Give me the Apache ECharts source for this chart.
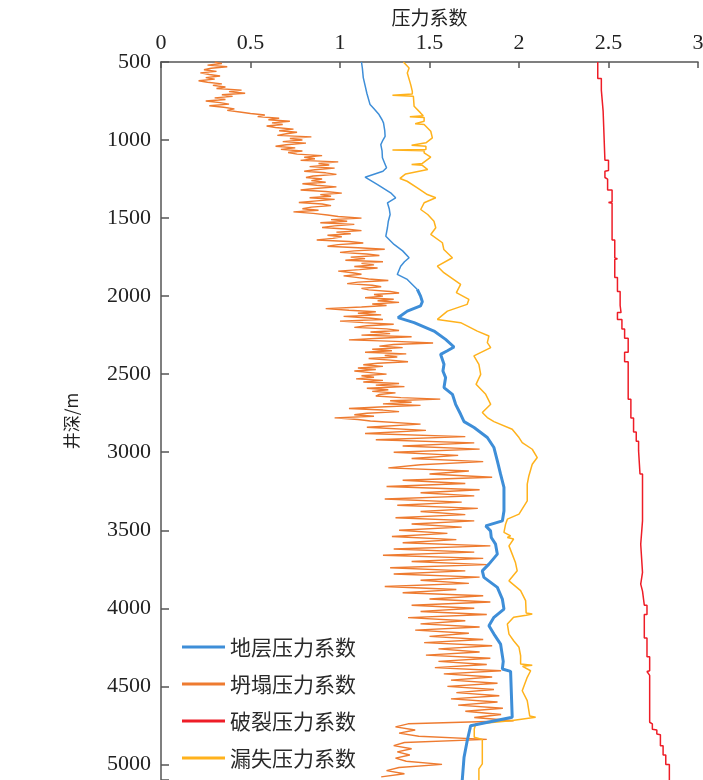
<!DOCTYPE html>
<html>
<head>
<meta charset="utf-8">
<title>压力系数剖面</title>
<script src="https://cdn.jsdelivr.net/npm/echarts@6/dist/echarts.min.js"></script>
<style>
  html, body { margin: 0; padding: 0; background: #fff; }
  #chart { width: 703px; height: 780px; }
</style>
</head>
<body>
<div id="chart"></div>
<script>
// Axis ticks
const xTicks = [0, 0.5, 1, 1.5, 2, 2.5, 3];
const depthTicks = [500, 1000, 1500, 2000, 2500, 3000, 3500, 4000, 4500, 5000];

const seriesNames = ['地层压力系数', '坍塌压力系数', '破裂压力系数', '漏失压力系数'];

// 地层压力系数 (pore pressure), depth in m
const poreDepth = [500, 540, 600, 650, 700, 773, 800, 837, 870, 890, 940, 976, 1000, 1029, 1070, 1114, 1150, 1178, 1200, 1238,
  1242, 1285, 1338, 1370, 1402, 1440, 1477, 1520, 1562, 1616, 1669, 1710, 1754, 1780, 1808, 1861, 1893, 1957,
  2000, 2036, 2063, 2096, 2138, 2170, 2224, 2277, 2326, 2350, 2373, 2437, 2480, 2522, 2586, 2629, 2693, 2757, 2804,
  2842, 2906, 2970, 3056, 3141, 3226, 3376, 3440, 3472, 3504, 3546, 3589, 3653, 3717, 3760, 3802, 3866, 3941,
  4005, 4058, 4112, 4165, 4229, 4340, 4389, 4404, 4698, 4752, 4847, 4954, 5100];
const poreValue = [1.12, 1.125, 1.13, 1.14, 1.15, 1.168, 1.19, 1.218, 1.235, 1.243, 1.25, 1.252, 1.24, 1.228, 1.235, 1.237, 1.25, 1.26, 1.24, 1.14,
  1.135, 1.21, 1.283, 1.311, 1.265, 1.275, 1.28, 1.27, 1.265, 1.256, 1.302, 1.35, 1.386, 1.36, 1.339, 1.32, 1.376, 1.432,
  1.45, 1.46, 1.45, 1.376, 1.324, 1.414, 1.525, 1.59, 1.637, 1.60, 1.562, 1.581, 1.575, 1.59, 1.581, 1.628, 1.646, 1.674, 1.693,
  1.749, 1.823, 1.86, 1.879, 1.897, 1.916, 1.916, 1.907, 1.814, 1.841, 1.845, 1.869, 1.879, 1.832, 1.795, 1.804, 1.879, 1.907,
  1.916, 1.86, 1.832, 1.86, 1.897, 1.912, 1.907, 1.953, 1.962, 1.73, 1.711, 1.693, 1.683];
// depth where the pore curve is drawn heavier
const poreHeavyFrom = 1957;

// 坍塌压力系数 (collapse pressure): 10 m samples down to 2790 m, 20 m samples below
const collapseDepth = [
  500, 510, 520, 530, 540, 550, 560, 570, 580, 590,
  600, 610, 620, 630, 640, 650, 660, 670, 680, 690,
  700, 710, 720, 730, 740, 750, 760, 770, 780, 790,
  800, 810, 820, 830, 840, 850, 860, 870, 880, 890,
  900, 910, 920, 930, 940, 950, 960, 970, 980, 990,
  1000, 1010, 1020, 1030, 1040, 1050, 1060, 1070, 1080, 1090,
  1100, 1110, 1120, 1130, 1140, 1150, 1160, 1170, 1180, 1190,
  1200, 1210, 1220, 1230, 1240, 1250, 1260, 1270, 1280, 1290,
  1300, 1310, 1320, 1330, 1340, 1350, 1360, 1370, 1380, 1390,
  1400, 1410, 1420, 1430, 1440, 1450, 1460, 1470, 1480, 1490,
  1500, 1510, 1520, 1530, 1540, 1550, 1560, 1570, 1580, 1590,
  1600, 1610, 1620, 1630, 1640, 1650, 1660, 1670, 1680, 1690,
  1700, 1710, 1720, 1730, 1740, 1750, 1760, 1770, 1780, 1790,
  1800, 1810, 1820, 1830, 1840, 1850, 1860, 1870, 1880, 1890,
  1900, 1910, 1920, 1930, 1940, 1950, 1960, 1970, 1980, 1990,
  2000, 2010, 2020, 2030, 2040, 2050, 2060, 2070, 2080, 2090,
  2100, 2110, 2120, 2130, 2140, 2150, 2160, 2170, 2180, 2190,
  2200, 2210, 2220, 2230, 2240, 2250, 2260, 2270, 2280, 2290,
  2300, 2310, 2320, 2330, 2340, 2350, 2360, 2370, 2380, 2390,
  2400, 2410, 2420, 2430, 2440, 2450, 2460, 2470, 2480, 2490,
  2500, 2510, 2520, 2530, 2540, 2550, 2560, 2570, 2580, 2590,
  2600, 2610, 2620, 2630, 2640, 2650, 2660, 2670, 2680, 2690,
  2700, 2710, 2720, 2730, 2740, 2750, 2760, 2770, 2780, 2790,
  2800, 2820, 2840, 2860, 2880, 2900, 2920, 2940, 2960, 2980,
  3000, 3020, 3040, 3060, 3080, 3100, 3120, 3140, 3160, 3180,
  3200, 3220, 3240, 3260, 3280, 3300, 3320, 3340, 3360, 3380,
  3400, 3420, 3440, 3460, 3480, 3500, 3520, 3540, 3560, 3580,
  3600, 3620, 3640, 3660, 3680, 3700, 3720, 3740, 3760, 3780,
  3800, 3820, 3840, 3860, 3880, 3900, 3920, 3940, 3960, 3980,
  4000, 4020, 4040, 4060, 4080, 4100, 4120, 4140, 4160, 4180,
  4200, 4220, 4240, 4260, 4280, 4300, 4320, 4340, 4360, 4380,
  4400, 4420, 4440, 4460, 4480, 4500, 4520, 4540, 4560, 4580,
  4600, 4620, 4640, 4660, 4680, 4700, 4720, 4740, 4760, 4780,
  4800, 4820, 4840, 4860, 4880, 4900, 4920, 4940, 4960, 4980,
  5000, 5020, 5040, 5060, 5080];
const collapseValue = [
  0.30, 0.34, 0.26, 0.37, 0.28, 0.24, 0.31, 0.22, 0.27, 0.33,
  0.25, 0.30, 0.21, 0.26, 0.34, 0.29, 0.36, 0.31, 0.45, 0.38,
  0.47, 0.34, 0.40, 0.30, 0.36, 0.25, 0.33, 0.38, 0.27, 0.35,
  0.41, 0.37, 0.44, 0.50, 0.58, 0.54, 0.66, 0.60, 0.72, 0.62,
  0.68, 0.59, 0.64, 0.74, 0.66, 0.76, 0.70, 0.65, 0.84, 0.72,
  0.79, 0.68, 0.81, 0.70, 0.64, 0.75, 0.67, 0.79, 0.71, 0.76,
  0.90, 0.80, 0.86, 0.78, 0.99, 0.88, 0.94, 0.83, 0.97, 0.86,
  0.80, 0.92, 0.98, 0.85, 0.81, 0.90, 0.84, 0.92, 0.79, 0.87,
  0.98, 0.86, 0.78, 0.92, 1.01, 0.89, 0.95, 0.83, 0.97, 0.87,
  0.77, 0.90, 0.95, 0.84, 0.79, 0.88, 0.74, 0.85, 0.93, 0.99,
  1.12, 0.95, 1.04, 0.89, 1.08, 0.97, 0.90, 1.03, 1.12, 0.98,
  1.06, 0.93, 1.01, 0.96, 0.87, 1.05, 1.13, 0.99, 0.93, 1.10,
  1.25, 1.08, 1.00, 1.15, 1.22, 1.06, 1.14, 1.03, 1.24, 1.12,
  1.19, 1.08, 1.21, 1.11, 0.99, 1.07, 1.12, 1.02, 1.09, 1.16,
  1.27, 1.10, 1.04, 1.18, 1.23, 1.12, 1.16, 1.28, 1.33, 1.19,
  1.24, 1.14, 1.30, 1.21, 1.33, 1.18, 1.26, 1.12, 0.92, 1.05,
  1.20, 1.10, 1.23, 1.02, 1.16, 1.24, 1.00, 1.13, 1.30, 1.15,
  1.08, 1.26, 1.33, 1.17, 1.28, 1.12, 1.40, 1.22, 1.05, 1.31,
  1.52, 1.30, 1.22, 1.35, 1.18, 1.29, 1.14, 1.37, 1.25, 1.32,
  1.16, 1.28, 1.38, 1.21, 1.13, 1.24, 1.10, 1.20, 1.08, 1.17,
  1.26, 1.12, 1.19, 1.09, 1.24, 1.13, 1.33, 1.20, 1.36, 1.15,
  1.27, 1.18, 1.31, 1.22, 1.20, 1.34, 1.56, 1.28, 1.40, 1.24,
  1.45, 1.22, 1.05, 1.24, 1.33, 1.15, 1.08, 1.19, 0.97, 1.10,
  1.17, 1.45, 1.15, 1.48, 1.14, 1.70, 1.20, 1.75, 1.35, 1.78,
  1.30, 1.66, 1.40, 1.80, 1.45, 1.27, 1.72, 1.50, 1.85, 1.35,
  1.70, 1.26, 1.78, 1.45, 1.75, 1.25, 1.68, 1.32, 1.77, 1.45,
  1.70, 1.31, 1.75, 1.40, 1.68, 1.33, 1.60, 1.29, 1.65, 1.35,
  1.84, 1.30, 1.75, 1.24, 1.80, 1.40, 1.82, 1.28, 1.70, 1.30,
  1.78, 1.45, 1.72, 1.25, 1.65, 1.35, 1.80, 1.50, 1.84, 1.40,
  1.75, 1.45, 1.82, 1.38, 1.70, 1.45, 1.78, 1.42, 1.72, 1.50,
  1.80, 1.47, 1.85, 1.55, 1.78, 1.48, 1.84, 1.55, 1.82, 1.53,
  1.90, 1.58, 1.85, 1.62, 1.88, 1.60, 1.86, 1.65, 1.89, 1.62,
  1.88, 1.66, 1.91, 1.70, 1.90, 1.75, 1.97, 1.38, 1.31, 1.42,
  1.33, 1.44, 1.82, 1.36, 1.30, 1.40, 1.32, 1.39, 1.31, 1.37,
  1.57, 1.33, 1.26, 1.36, 1.23];

// 破裂压力系数 (fracture pressure), stepped profile
const fracDepth = [500, 605, 605, 680, 680, 815, 815, 1130, 1130, 1195, 1200, 1240, 1250, 1320, 1320, 1395, 1400, 1405,
  1640, 1640, 1755, 1760, 1765, 1880, 1880, 1970, 1970, 2060, 2060, 2105, 2105, 2150, 2150, 2210, 2210, 2270,
  2270, 2360, 2360, 2420, 2420, 2660, 2660, 2780, 2780, 2870, 2870, 2930, 2930, 2990, 2990, 3140, 3140, 3440,
  3440, 3590, 3590, 3770, 3770, 3845, 3845, 3890, 3890, 3980, 3980, 4040, 4040, 4190, 4190, 4310, 4310, 4400,
  4405, 4430, 4730, 4740, 4775, 4780, 4805, 4810, 4880, 4880, 4940, 4940, 5000, 5000, 5100];
const fracValue = [2.44, 2.44, 2.46, 2.46, 2.47, 2.47, 2.48, 2.48, 2.50, 2.50, 2.48, 2.48, 2.495, 2.495, 2.52, 2.52, 2.50, 2.52,
  2.52, 2.535, 2.535, 2.55, 2.535, 2.535, 2.55, 2.55, 2.565, 2.565, 2.57, 2.57, 2.55, 2.55, 2.575, 2.575, 2.59, 2.59,
  2.61, 2.61, 2.59, 2.59, 2.61, 2.61, 2.625, 2.625, 2.64, 2.64, 2.655, 2.655, 2.668, 2.668, 2.676, 2.676, 2.69, 2.69,
  2.68, 2.68, 2.69, 2.69, 2.68, 2.68, 2.69, 2.69, 2.70, 2.70, 2.715, 2.715, 2.70, 2.70, 2.715, 2.715, 2.73, 2.73,
  2.715, 2.73, 2.73, 2.745, 2.745, 2.77, 2.77, 2.79, 2.79, 2.805, 2.805, 2.82, 2.82, 2.84, 2.84];

// 漏失压力系数 (loss pressure), depth in m
const lossDepth = [500, 538, 570, 645, 688, 705, 713, 720, 784, 826, 845, 850, 855, 880, 895, 900, 944, 986, 1018, 1033,
  1040, 1061, 1064, 1068, 1082, 1110, 1150, 1157, 1162, 1189, 1217, 1246, 1264, 1306, 1349, 1370, 1402, 1445, 1477,
  1520, 1562, 1605, 1658, 1701, 1754, 1808, 1850, 1925, 1978, 2021, 2053, 2096, 2149, 2170, 2224, 2255, 2298, 2330,
  2383, 2437, 2501, 2565, 2629, 2693, 2746, 2778, 2804, 2853, 2906, 2938, 2981, 3034, 3077, 3152, 3205, 3312, 3397,
  3429, 3461, 3514, 3536, 3546, 3556, 3600, 3653, 3706, 3760, 3824, 3887, 3951, 4030, 4037, 4045, 4058, 4101, 4165,
  4208, 4250, 4304, 4357, 4365, 4372, 4400, 4442, 4528, 4592, 4690, 4698, 4720, 4741, 4773, 4826, 4840, 4922, 4997,
  5029, 5100];
const lossValue = [1.354, 1.386, 1.376, 1.395, 1.404, 1.404, 1.293, 1.41, 1.414, 1.45, 1.465, 1.39, 1.47, 1.47, 1.42, 1.47, 1.507, 1.516, 1.48, 1.40,
  1.48, 1.48, 1.293, 1.47, 1.47, 1.507, 1.46, 1.40, 1.46, 1.49, 1.367, 1.335, 1.375, 1.432, 1.488, 1.535, 1.47, 1.451, 1.49,
  1.525, 1.535, 1.507, 1.572, 1.58, 1.628, 1.544, 1.58, 1.674, 1.65, 1.72, 1.71, 1.60, 1.544, 1.674, 1.767, 1.832, 1.823, 1.842,
  1.748, 1.776, 1.786, 1.76, 1.814, 1.842, 1.795, 1.823, 1.86, 1.962, 2.0, 2.018, 2.074, 2.102, 2.074, 2.055, 2.046, 2.046, 2.0,
  1.935, 1.925, 1.916, 1.953, 1.935, 1.97, 1.944, 1.962, 1.98, 1.99, 1.944, 2.009, 2.037, 2.04, 2.074, 2.04, 1.97, 1.935, 1.944,
  1.97, 2.0, 2.009, 2.009, 2.074, 2.02, 2.065, 2.046, 2.018, 2.046, 2.06, 2.093, 1.953, 1.758, 1.75, 1.75, 1.795, 1.795, 1.795,
  1.776, 1.776];

const colors = {
  pore: '#3E8ED8',
  collapse: '#EE7B30',
  frac: '#EE1D27',
  loss: '#FFB21C'
};

function pairs(depths, values) {
  return depths.map((d, i) => [values[i], d]);
}

const poreAll = pairs(poreDepth, poreValue);
const poreUpper = poreAll.filter(p => p[1] <= poreHeavyFrom);
const poreLower = poreAll.filter(p => p[1] >= poreHeavyFrom);

const numFont = 'Liberation Serif';
const cjkFont = 'Noto Sans CJK SC';

const chart = echarts.init(document.getElementById('chart'), null, { renderer: 'canvas' });

chart.setOption({
  animation: false,
  backgroundColor: '#ffffff',
  grid: { left: 161, right: 5, top: 62, bottom: 0, containLabel: false, outerBoundsMode: 'none' },
  legend: {
    orient: 'vertical',
    left: 177,
    top: 631,
    itemWidth: 43,
    itemHeight: 3,
    itemGap: 15,
    icon: 'rect',
    data: seriesNames,
    textStyle: { fontFamily: cjkFont, fontSize: 21, color: '#2a2a2a', lineHeight: 22 }
  },
  xAxis: {
    type: 'value',
    position: 'top',
    min: xTicks[0],
    max: xTicks[xTicks.length - 1],
    interval: 0.5,
    name: '压力系数',
    nameLocation: 'middle',
    nameGap: 32,
    nameTextStyle: { fontFamily: cjkFont, fontSize: 19, color: '#222' },
    axisLine: { show: true, lineStyle: { color: '#555', width: 1.5 } },
    axisTick: { show: true, inside: true, length: 6, lineStyle: { color: '#555', width: 1.5 } },
    axisLabel: { fontFamily: numFont, fontSize: 22, color: '#222', margin: 8,
      formatter: v => (xTicks.indexOf(v) >= 0 ? String(v) : '') },
    splitLine: { show: false }
  },
  yAxis: {
    type: 'value',
    inverse: true,
    min: depthTicks[0],
    max: 5100,
    interval: 500,
    name: '井深/m',
    nameLocation: 'middle',
    nameGap: 81,
    nameRotate: 90,
    nameTextStyle: { fontFamily: cjkFont, fontSize: 17, color: '#222' },
    axisLine: { show: true, lineStyle: { color: '#555', width: 1.5 } },
    axisTick: { show: true, inside: true, length: 8, lineStyle: { color: '#555', width: 1.5 } },
    axisLabel: { fontFamily: numFont, fontSize: 22, color: '#222', margin: 10,
      formatter: v => (depthTicks.indexOf(v) >= 0 ? String(v) : '') },
    splitLine: { show: false }
  },
  series: [
    {
      name: seriesNames[0], type: 'line', data: poreUpper, symbol: 'none',
      lineStyle: { color: colors.pore, width: 1.5 }, itemStyle: { color: colors.pore }, z: 4
    },
    {
      name: seriesNames[1], type: 'line', data: pairs(collapseDepth, collapseValue), symbol: 'none',
      lineStyle: { color: colors.collapse, width: 1.4 }, itemStyle: { color: colors.collapse }, z: 2
    },
    {
      name: seriesNames[2], type: 'line', data: pairs(fracDepth, fracValue), symbol: 'none',
      lineStyle: { color: colors.frac, width: 1.5 }, itemStyle: { color: colors.frac }, z: 3
    },
    {
      name: seriesNames[3], type: 'line', data: pairs(lossDepth, lossValue), symbol: 'none',
      lineStyle: { color: colors.loss, width: 1.5 }, itemStyle: { color: colors.loss }, z: 3
    },
    {
      name: seriesNames[0], type: 'line', data: poreLower, symbol: 'none',
      lineStyle: { color: colors.pore, width: 3 }, itemStyle: { color: colors.pore }, z: 4
    }
  ]
});
</script>
</body>
</html>
